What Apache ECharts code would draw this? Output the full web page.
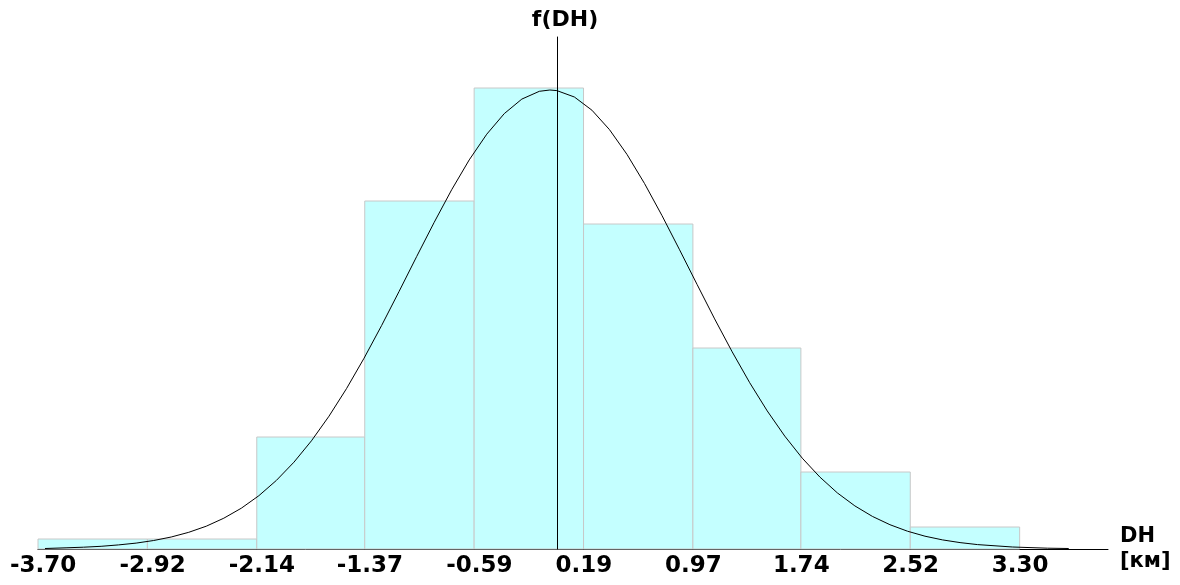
<!DOCTYPE html>
<html>
<head>
<meta charset="utf-8">
<script src="https://cdn.jsdelivr.net/npm/echarts@6/dist/echarts.min.js"></script>
<style>
  html, body { margin: 0; padding: 0; background: #fff; }
  #chart { width: 1180px; height: 585px; }
</style>
</head>
<body>
<div id="chart"></div>
<script>
// bin edges (also the tick labels)
const edges = [-3.70, -2.92, -2.14, -1.37, -0.59, 0.19, 0.97, 1.74, 2.52, 3.30]
// bar heights
const barValues = [1.0, 1.0, 11.2, 34.8, 46.1, 32.5, 20.1, 7.7, 2.2]

// fitted density curve
const curveX = [-3.65, -3.5, -3.375, -3.25, -3.125, -3.0, -2.875, -2.75, -2.625, -2.5, -2.375, -2.25,
  -2.125, -2.0, -1.875, -1.75, -1.625, -1.5, -1.375, -1.25, -1.125, -1.0, -0.875, -0.75, -0.625,
  -0.5, -0.375, -0.25, -0.125, -0.05, 0, 0.125, 0.25, 0.375, 0.5, 0.625, 0.75, 0.875, 1.0, 1.125,
  1.25, 1.375, 1.5, 1.625, 1.75, 1.875, 2.0, 2.125, 2.25, 2.375, 2.5, 2.625, 2.75, 2.875, 3.0,
  3.25, 3.5, 3.65]
const curveY = [0.05, 0.12, 0.18, 0.27, 0.41, 0.59, 0.85, 1.20, 1.67, 2.28, 3.08, 4.08,
  5.33, 6.86, 8.68, 10.82, 13.28, 16.04, 19.08, 22.34, 25.76, 29.24, 32.66, 35.93, 38.91,
  41.48, 43.54, 44.99, 45.77, 45.90, 45.84, 45.20, 43.88, 41.94, 39.46, 36.55, 33.33, 29.92, 26.45, 23.01,
  19.72, 16.63, 13.81, 11.29, 9.08, 7.20, 5.61, 4.31, 3.26, 2.43, 1.78, 1.28, 0.91, 0.64, 0.44,
  0.20, 0.08, 0.05]

const bins = barValues.map((v, i) => [edges[i], edges[i + 1], v])
const curve = curveX.map((x, i) => [x, curveY[i]])

const fontFamily = "DejaVu Sans"

const chart = echarts.init(document.getElementById("chart"))

const option = {
  animation: false,
  backgroundColor: "#fff",
  grid: { left: 38, right: 72, top: 37, bottom: 36, containLabel: false },
  xAxis: {
    type: "value",
    min: -3.70,
    max: 3.93,
    name: "DH\n[км]",
    nameLocation: "end",
    nameGap: 12,
    nameTextStyle: {
      color: "#000",
      fontFamily,
      fontWeight: "bold",
      fontSize: 21,
      lineHeight: 25,
      padding: [14, 0, 0, 0],
    },
    axisLine: { onZero: false, lineStyle: { color: "#000", width: 1 } },
    axisTick: { show: false },
    splitLine: { show: false },
    axisLabel: {
      customValues: edges,
      margin: 6,
      align: "left",
      padding: [0, 0, 0, -28],
      color: "#000",
      fontFamily,
      fontWeight: "bold",
      fontSize: 23,
      formatter: (v) => v.toFixed(2),
    },
  },
  yAxis: {
    type: "value",
    min: 0,
    max: 51.2,
    z: 10,
    name: "{a|f(DH)}",
    nameLocation: "end",
    nameGap: 6,
    nameTextStyle: {
      rich: {
        a: { width: 50, align: "left", fontFamily, fontWeight: "bold", fontSize: 22, color: "#000" },
      },
    },
    axisLine: { show: true, onZero: true, lineStyle: { color: "#000", width: 1 } },
    axisTick: { show: false },
    axisLabel: { show: false },
    splitLine: { show: false },
  },
  series: [
    {
      type: "custom",
      data: bins,
      z: 2,
      renderItem: (params, api) => {
        const p0 = api.coord([api.value(0), 0])
        const p1 = api.coord([api.value(1), api.value(2)])
        return {
          type: "rect",
          shape: { x: p0[0], y: p1[1], width: p1[0] - p0[0], height: p0[1] - p1[1] },
          style: { fill: "#c4ffff", stroke: "#c8c8c8", lineWidth: 1 },
        }
      },
    },
    {
      type: "line",
      data: curve,
      z: 5,
      smooth: false,
      showSymbol: false,
      lineStyle: { color: "#000", width: 1 },
    },
  ],
}

chart.setOption(option)
</script>
</body>
</html>
